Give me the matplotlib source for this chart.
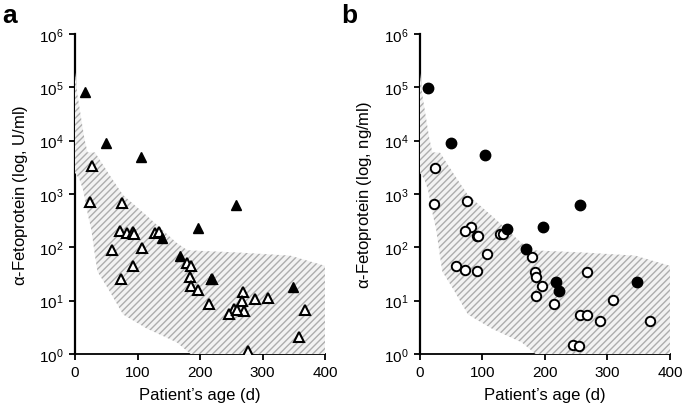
import matplotlib.pyplot as plt
from matplotlib.ticker import FixedLocator, NullLocator

plt.rcParams['font.family'] = ['Liberation Sans', 'DejaVu Sans']
plt.rcParams['mathtext.fontset'] = 'custom'
plt.rcParams['mathtext.rm'] = 'Liberation Sans'
plt.rcParams['mathtext.it'] = 'Liberation Serif:italic'
plt.rcParams['mathtext.default'] = 'regular'
plt.rcParams['hatch.linewidth'] = 1.0

# reference range (same band in both panels)
band_upper_x = [0, 4, 15, 20, 32, 56, 77, 115, 163, 180, 260, 344, 400]
band_upper_y = [1.9e5, 7e4, 1.1e4, 6000, 6000, 2200, 950, 390, 120, 88, 80, 70, 45]
band_lower_x = [0, 7, 13, 21, 26, 32, 36, 54, 77, 115, 163, 185, 400]
band_lower_y = [2500, 1900, 1200, 390, 220, 70, 35, 16, 5.5, 3, 1.65, 1.0, 1.0]

# panel a: AFP in U/ml
a_high_age = [16, 50, 105, 139, 168.5, 197, 258, 217, 349]
a_high_afp = [8.1e4, 9100, 4900, 148, 68, 232, 630, 26, 18]
a_low_age = [26.5, 24.4, 75.5, 71.7, 82.4, 92, 94, 59.6, 107, 92.5, 72.8, 128.6, 134,
             179, 185.5, 184.4, 185.5, 196, 219.5, 215, 268, 266.7, 255, 247, 270.4,
             259, 288, 309, 367.6, 358.6, 277]
a_low_afp = [3300, 720, 680, 200, 186, 190, 178, 91, 98, 44, 26, 182, 190,
             51, 44, 28, 19, 16, 25, 8.7, 14.5, 9.8, 7, 5.6, 6.3,
             6.6, 10.7, 11, 6.7, 2.1, 1.15]

# panel b: AFP in ng/ml
b_high_age = [13.3, 49.6, 104, 138.7, 169, 197, 256, 217.6, 223, 348]
b_high_afp = [9.6e4, 8900, 5500, 220, 93, 245, 630, 22, 15.5, 22]
b_low_age = [24, 22.4, 74.7, 81.6, 72, 90.7, 93, 128, 133, 106.7, 57.6, 72, 91.7,
             178.7, 184, 185.6, 196, 185.6, 268, 215, 309, 256, 267, 288, 368, 245, 255]
b_low_afp = [3090, 650, 740, 245, 200, 165, 160, 178, 178, 75, 44, 38, 35.6,
             65, 34, 27.5, 19, 12, 35, 8.7, 10.5, 5.4, 5.5, 4.2, 4.1, 1.5, 1.4]


def draw_band(ax):
    xs = band_upper_x + band_lower_x[::-1]
    ys = band_upper_y + band_lower_y[::-1]
    ax.fill(xs, ys, facecolor='#f2f2f2', edgecolor='none', zorder=3)
    ax.fill(xs, ys, fill=False, hatch='/////', edgecolor='#adadad', linewidth=0, zorder=3)


def setup_axes(ax, ylabel):
    ax.set_yscale('log')
    ax.set_xlim(0, 400)
    ax.set_ylim(1, 1e6)
    ax.yaxis.set_major_locator(FixedLocator([10.0 ** k for k in range(7)]))
    ax.yaxis.set_minor_locator(NullLocator())
    ax.set_xticks([0, 100, 200, 300, 400])
    for side in ['top', 'right']:
        ax.spines[side].set_visible(False)
    ax.spines['left'].set_linewidth(1.6)
    ax.spines['bottom'].set_linewidth(1.3)
    ax.tick_params(direction='out', length=4, width=1.3, labelsize=11, pad=4)
    ax.set_xlabel('Patient\u2019s age (d)', fontsize=12, labelpad=6)
    ax.set_ylabel(ylabel, fontsize=12, labelpad=7)


def plot_panel(ax, low_age, low_afp, high_age, high_afp, marker, ylabel):
    draw_band(ax)
    if marker == '^':
        ax.plot(low_age, low_afp, linestyle='none', marker='^', markersize=7,
                markerfacecolor='white', markeredgecolor='black', markeredgewidth=1.5, zorder=4)
        ax.plot(high_age, high_afp, linestyle='none', marker='^', markersize=7,
                color='black', zorder=5)
    else:
        ax.plot(low_age, low_afp, linestyle='none', marker='o', markersize=6.8,
                markerfacecolor='white', markeredgecolor='black', markeredgewidth=1.4, zorder=4)
        ax.plot(high_age, high_afp, linestyle='none', marker='o', markersize=7.5,
                color='black', zorder=5)
    setup_axes(ax, ylabel)


def main():
    fig = plt.figure(figsize=(6.85, 4.14), dpi=100)
    ax_a = fig.add_axes([0.1095, 0.1425, 0.365, 0.773])
    ax_b = fig.add_axes([0.613, 0.1425, 0.365, 0.773])

    plot_panel(ax_a, a_low_age, a_low_afp, a_high_age, a_high_afp, '^',
               '$\\alpha$-Fetoprotein (log, U/ml)')
    plot_panel(ax_b, b_low_age, b_low_afp, b_high_age, b_high_afp, 'o',
               '$\\alpha$-Fetoprotein (log, ng/ml)')

    fig.text(0.003, 0.99, 'a', fontsize=19, fontweight='bold', va='top', ha='left')
    fig.text(0.498, 0.99, 'b', fontsize=19, fontweight='bold', va='top', ha='left')

    fig.savefig('out.png', dpi=100)


if __name__ == "__main__":
    main()
